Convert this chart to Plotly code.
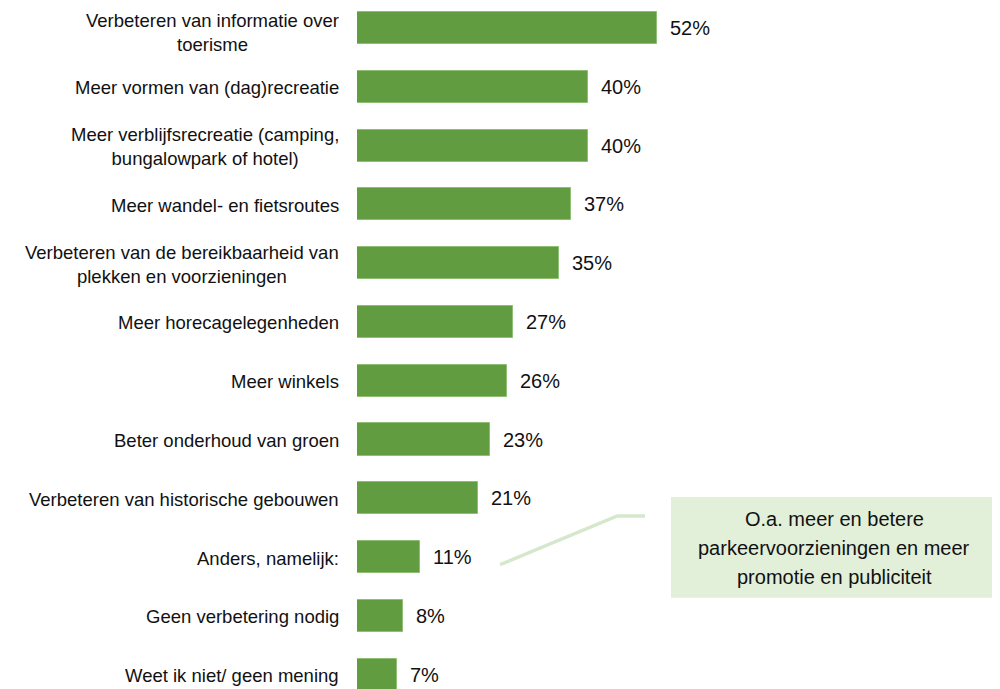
import plotly.graph_objects as go

categories = [
    "Verbeteren van informatie over<br>toerisme",
    "Meer vormen van (dag)recreatie",
    "Meer verblijfsrecreatie (camping,<br>bungalowpark of hotel)",
    "Meer wandel- en fietsroutes",
    "Verbeteren van de bereikbaarheid van<br>plekken en voorzieningen",
    "Meer horecagelegenheden",
    "Meer winkels",
    "Beter onderhoud van groen",
    "Verbeteren van historische gebouwen",
    "Anders, namelijk:",
    "Geen verbetering nodig",
    "Weet ik niet/ geen mening",
]
values = [52, 40, 40, 37, 35, 27, 26, 23, 21, 11, 8, 7]
value_labels = ["52%", "40%", "40%", "37%", "35%", "27%", "26%", "23%", "21%", "11%", "8%", "7%"]
note_lines = ["O.a. meer en betere", "parkeervoorzieningen en meer", "promotie en publiciteit"]

ypos = list(range(len(categories)))
GREEN = "#619D40"
FONT = "Liberation Sans, Arial, sans-serif"

fig = go.Figure()
fig.add_trace(go.Bar(
    x=values, y=ypos, orientation="h",
    marker=dict(color=GREEN, line=dict(color="#8fbf74", width=1)),
    width=0.545, hoverinfo="skip",
))

annotations = []
for i, (c, v, t) in enumerate(zip(categories, values, value_labels)):
    ys = -5 if i == 0 else -1
    annotations.append(dict(x=0, y=i, xref="x", yref="y", text=c, showarrow=False,
                            xanchor="right", yanchor="middle", align="center",
                            xshift=-16, yshift=ys, font=dict(family=FONT, size=18.5, color="#111111")))
    annotations.append(dict(x=v, y=i, xref="x", yref="y", text=t, showarrow=False,
                            xanchor="left", yanchor="middle", xshift=11,
                            font=dict(family=FONT, size=20, color="#111111")))

n = len(note_lines)
for k, line in enumerate(note_lines):
    annotations.append(dict(x=82.7, y=8.84, xref="x", yref="y", text=line, showarrow=False,
                            xanchor="center", yanchor="middle",
                            yshift=-(k - (n - 1) / 2) * 29,
                            font=dict(family=FONT, size=20, color="#111111")))
fig.update_layout(annotations=annotations)

fig.add_shape(type="rect", x0=54.4, x1=111.1, y0=7.98, y1=9.69, xref="x", yref="y",
              fillcolor="#E2EFD9", line=dict(width=0), layer="below")
fig.add_shape(type="path", path="M 24.8 9.13 L 45.1 8.30 L 49.9 8.30", xref="x", yref="y",
              line=dict(color="#D6E8CB", width=3.5))

fig.update_layout(
    width=1000, height=689,
    margin=dict(l=349, r=0, t=0, b=0),
    paper_bgcolor="white", plot_bgcolor="white",
    showlegend=False,
    xaxis=dict(range=[0, 112.8], visible=False, fixedrange=True),
    yaxis=dict(range=[11.38, -0.34], visible=False, fixedrange=True),
    bargap=0,
)

fig.write_html("out.html")
